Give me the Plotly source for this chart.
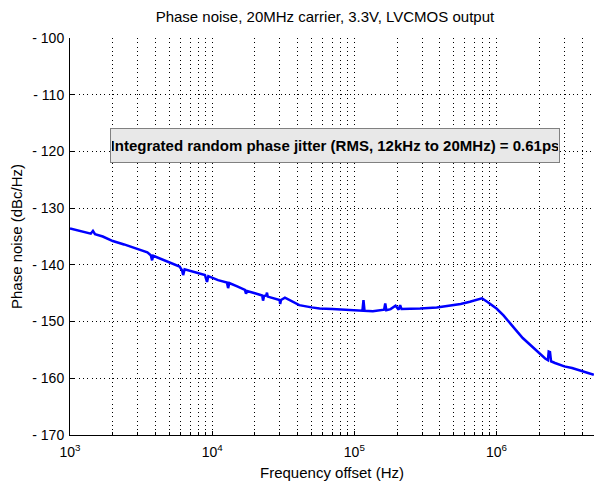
import plotly.graph_objects as go

# Data
freq_hz = [1000, 1200, 1400, 1450, 1500, 1700, 2000, 2400, 2900, 3500, 3700, 3780, 3850,
           4300, 5000, 5900, 6150, 6250, 6400, 7500, 8900, 9200, 9400, 11000, 12700,
           12950, 13200, 15000, 17000, 17300, 17600, 20000, 22500, 22800, 23200, 24000,
           24300, 24600, 27000, 29800, 30100, 30500, 32500, 36000, 41000, 50000, 57000,
           70000, 93000, 110000, 114000, 116000, 118000, 135000, 150000, 162000, 165000,
           168000, 180000, 195000, 205000, 210000, 215000, 230000, 290000, 380000,
           470000, 560000, 650000, 730000, 790000, 870000, 1000000, 1120000, 1240000,
           1380000, 1530000, 1780000, 2020000, 2200000, 2300000, 2330000, 2380000,
           2420000, 2580000, 3000000, 3400000, 3860000, 4300000, 4840000]
phase_noise_dbc = [-133.6, -134.1, -134.5, -134.0, -134.6, -135.0, -135.8, -136.4, -137.1,
                   -137.8, -138.3, -139.2, -138.4, -138.9, -139.5, -140.3, -141.0, -141.8,
                   -140.8, -141.3, -141.8, -143.0, -142.0, -142.7, -143.1, -144.1, -143.2,
                   -143.8, -144.4, -145.1, -144.6, -145.0, -145.4, -146.3, -145.5, -145.4,
                   -144.9, -145.6, -145.9, -146.2, -146.9, -146.2, -145.8, -146.4, -147.1,
                   -147.5, -147.7, -147.8, -148.0, -148.2, -148.1, -146.2, -148.1, -148.2,
                   -148.0, -147.9, -146.8, -148.0, -147.8, -147.2, -147.9, -147.1, -147.8,
                   -147.8, -147.7, -147.5, -147.2, -146.9, -146.5, -146.2, -145.9, -146.6,
                   -147.7, -148.9, -150.3, -151.6, -152.9, -154.4, -155.8, -156.5, -156.8,
                   -155.3, -155.4, -157.0, -157.3, -157.9, -158.2, -158.6, -158.9, -159.4]

y_ticks = [-170, -160, -150, -140, -130, -120, -110, -100]
y_tick_labels = ["- 170", "- 160", "- 150", "- 140", "- 130", "- 120", "- 110", "- 100"]
decades = [3, 4, 5, 6]

title_text = "Phase noise, 20MHz carrier, 3.3V, LVCMOS output"
x_title = "Frequency offset (Hz)"
y_title = "Phase noise (dBc/Hz)"
note_text = "Integrated random phase jitter (RMS, 12kHz to 20MHz) = 0.61ps"

x_major = [10 ** d for d in decades]
x_major_text = [f"10<sup>{d}</sup>" for d in decades]
x_minor = [m * 10 ** d for d in decades for m in range(2, 10) if m * 10 ** d <= 5e6]

fig = go.Figure()
fig.add_trace(go.Scatter(x=freq_hz, y=phase_noise_dbc, mode="lines",
                         line=dict(color="#0000ff", width=2.5), showlegend=False))

font_family = "Liberation Sans, Arial, sans-serif"
grid_dash = "1px,3.3px"
fig.update_layout(
    width=594, height=481,
    margin=dict(l=70, r=0, t=38, b=46),
    paper_bgcolor="white", plot_bgcolor="white",
    font=dict(family=font_family, size=14, color="black"),
    title=dict(text=title_text, x=0.547, xanchor="center", y=0.965, yanchor="middle",
               font=dict(size=15, color="black")),
    xaxis=dict(type="log", range=[3, 6.686], tickmode="array",
               tickvals=x_major, ticktext=x_major_text,
               showgrid=True, gridcolor="black", griddash=grid_dash, gridwidth=1,
               minor=dict(tickmode="array", tickvals=x_minor, showgrid=True,
                          gridcolor="black", griddash=grid_dash, gridwidth=1,
                          ticks="inside", ticklen=3, tickcolor="black"),
               showline=True, linecolor="black", linewidth=1, mirror=False,
               ticks="inside", ticklen=4, tickcolor="black",
               ticklabelstandoff=4,
               tickfont=dict(size=14), zeroline=False,
               title=dict(text=x_title, font=dict(size=15), standoff=8)),
    yaxis=dict(range=[-170, -100], tickmode="array", tickvals=y_ticks,
               ticktext=y_tick_labels,
               showgrid=True, gridcolor="black", griddash=grid_dash, gridwidth=1,
               showline=True, linecolor="black", linewidth=1,
               ticks="inside", ticklen=4, tickcolor="black",
               ticklabelstandoff=2,
               tickfont=dict(size=14), zeroline=False,
               title=dict(text=y_title, font=dict(size=15), standoff=6)),
)

fig.add_annotation(text=f"<b>{note_text}</b>", xref="paper", yref="paper",
                   x=0.5057, y=0.729, xanchor="center", yanchor="middle",
                   showarrow=False, font=dict(size=15, color="black"),
                   bgcolor="#e8e8e8", bordercolor="#808080", borderwidth=1,
                   width=446, height=31)

fig.write_html("out.html")
